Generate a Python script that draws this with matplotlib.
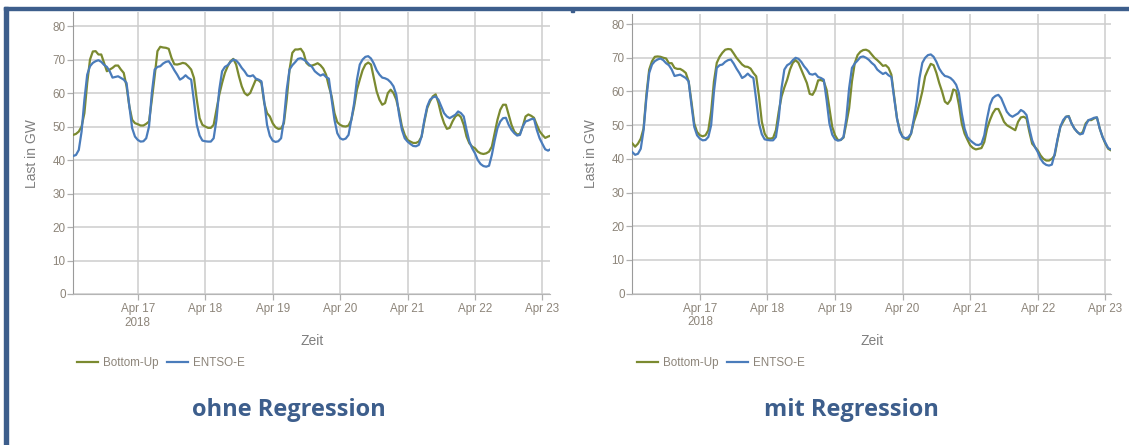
import numpy as np
import pandas as pd
import matplotlib
matplotlib.use("Agg")
import matplotlib.pyplot as plt
from matplotlib.patches import Rectangle
from matplotlib.lines import Line2D

# Hourly load in GW, starting 2018-04-16 00:00
entsoe = [
    # Apr 16
    42.0, 41.2, 41.5, 43.0, 48.5, 58.0, 65.5, 68.0, 69.0, 69.5, 69.8, 69.3,
    68.4, 67.8, 66.5, 64.6, 64.8, 65.0, 64.5, 64.0, 63.0, 56.0, 49.5, 47.0,
    # Apr 17
    46.0, 45.5, 45.6, 46.5, 50.0, 60.0, 67.0, 67.8, 68.0, 68.8, 69.3, 69.5,
    68.3, 66.8, 65.5, 64.0, 64.5, 65.3, 64.5, 64.0, 57.5, 50.5, 47.3, 45.8,
    # Apr 18
    45.6, 45.5, 45.5, 46.5, 52.0, 61.0, 66.5, 67.8, 68.3, 69.3, 70.0, 69.7,
    68.8, 67.5, 66.5, 65.2, 65.0, 65.3, 64.3, 64.0, 63.5, 57.5, 50.5, 47.2,
    # Apr 19
    45.8, 45.4, 45.6, 46.5, 52.0, 61.0, 67.0, 68.3, 69.2, 70.2, 70.4, 70.0,
    69.4, 68.5, 67.8, 66.5, 65.8, 65.2, 65.6, 64.8, 64.3, 58.0, 52.0, 48.0,
    # Apr 20
    46.5, 46.1, 46.4, 47.5, 52.0, 57.0, 64.0, 68.5, 70.0, 70.8, 71.0, 70.3,
    68.8, 66.8, 65.5, 64.6, 64.4, 64.0, 63.2, 62.0, 59.5, 53.5, 49.0, 46.5,
    # Apr 21
    45.5, 44.8, 44.2, 44.1, 44.5, 47.0, 52.0, 56.0, 58.0, 58.7, 59.0, 58.0,
    56.0, 54.0, 53.0, 52.5, 53.0, 53.5, 54.5, 54.0, 53.0, 49.0, 45.5, 43.5,
    # Apr 22
    42.0, 40.0, 38.8, 38.2, 38.0, 38.3, 41.5, 45.8, 49.5, 51.5, 52.5, 52.6,
    50.5, 49.0, 48.0, 47.3, 47.5, 50.0, 51.5, 51.8, 52.2, 52.3, 49.0, 46.5,
    # Apr 23
    44.8, 43.2, 42.8, 43.3,
]

bottom_up_raw = [
    # Apr 16
    47.5, 47.5, 47.8, 48.5, 50.0, 54.0, 63.0, 70.0, 72.4, 72.5, 71.5, 71.5,
    69.0, 66.5, 67.0, 67.5, 68.2, 68.2, 67.0, 66.0, 62.0, 56.0, 52.0, 51.0,
    # Apr 17
    50.7, 50.3, 50.3, 50.8, 51.5, 58.0, 65.0, 72.5, 73.8, 73.6, 73.5, 73.2,
    70.5, 68.6, 68.5, 68.7, 69.0, 68.8, 68.0, 67.0, 64.5, 58.0, 52.5, 50.5,
    # Apr 18
    50.0, 49.6, 49.6, 50.5, 55.0, 59.5, 63.0, 66.0, 68.0, 69.5, 70.2, 68.5,
    65.0, 62.0, 60.0, 59.3, 60.0, 62.0, 64.0, 63.8, 63.0, 57.0, 54.0, 53.0,
    # Apr 19
    51.0, 49.8, 49.3, 49.4, 51.0, 58.0, 67.0, 72.0, 73.0, 73.0, 73.2, 72.0,
    69.0, 68.2, 68.2, 68.5, 68.9, 68.3, 67.3, 65.5, 62.0, 59.0, 54.0, 51.3,
    # Apr 20
    50.5, 50.1, 50.0, 50.3, 52.0, 56.0, 61.0, 64.0, 66.8, 68.5, 69.1, 68.5,
    64.5, 60.5, 58.0, 56.5, 57.0, 60.0, 61.0, 60.0, 58.0, 54.5, 50.0, 47.5,
    # Apr 21
    46.0, 45.5, 45.1, 45.1, 45.5, 47.0, 51.5, 55.5, 57.5, 59.0, 59.6, 57.0,
    53.5, 51.0, 49.3, 49.6, 51.5, 53.0, 53.6, 52.8, 50.5, 47.0, 45.0, 44.0,
    # Apr 22
    43.5, 42.5, 42.0, 41.8, 42.0, 42.5, 44.0, 48.0, 52.0, 55.0, 56.5, 56.5,
    53.5, 50.5, 48.5, 47.6, 47.8, 50.0, 53.0, 53.6, 53.2, 52.6, 50.5, 48.6,
    # Apr 23
    47.5, 46.6, 47.0, 47.3,
]

bottom_up_reg = [
    # Apr 16
    44.6, 43.6, 44.5, 46.0, 49.0, 59.0, 66.5, 69.0, 70.3, 70.4, 70.3, 70.0,
    69.8, 68.4, 68.4, 67.0, 66.7, 66.7, 66.2, 65.5, 63.0, 57.0, 50.5, 48.0,
    # Apr 17
    47.0, 46.7, 47.0, 48.5, 54.0, 63.0, 68.5, 70.3, 71.5, 72.4, 72.6, 72.5,
    71.3, 70.0, 69.0, 68.0, 67.4, 67.3, 66.8, 65.5, 64.5, 58.5, 51.0, 47.5,
    # Apr 18
    46.1, 46.0, 46.2, 48.5, 54.0, 58.5, 61.2, 63.5, 66.5, 68.5, 69.3, 68.5,
    66.5, 64.5, 62.5, 59.3, 59.0, 60.5, 63.3, 63.4, 63.0, 60.5, 55.0, 49.5,
    # Apr 19
    47.0, 45.6, 45.6, 46.3, 50.5, 55.0, 63.0, 68.4, 70.8, 71.8, 72.3, 72.4,
    72.0, 71.0, 70.0, 69.3, 68.5, 67.6, 67.8, 67.0, 65.0, 58.5, 52.0, 48.5,
    # Apr 20
    46.5, 46.0, 45.7, 47.5, 51.0, 53.5, 56.5, 60.0, 64.5, 66.5, 68.2, 67.8,
    65.5, 62.5, 60.0, 57.0, 56.3, 57.5, 60.6, 60.2, 56.0, 50.5, 47.5, 45.7,
    # Apr 21
    44.0, 43.2, 42.8, 43.0, 43.2, 45.0, 49.0, 51.5, 53.5, 54.8, 54.8, 53.0,
    51.0, 50.0, 49.5, 49.0, 48.5, 51.0, 52.3, 52.5, 52.0, 48.0, 44.5, 43.5,
    # Apr 22
    42.5, 41.0, 40.0, 39.5, 39.5, 40.0, 41.0, 45.5, 49.5, 51.0, 52.5, 52.7,
    50.5, 49.0, 48.0, 47.3, 48.0, 50.5, 51.5, 51.5, 52.0, 52.3, 49.0, 46.5,
    # Apr 23
    44.5, 43.0, 42.5, 42.8,
]

times = pd.date_range("2018-04-16 00:00", periods=len(entsoe), freq="h")

tick_dates = pd.date_range("2018-04-17", "2018-04-23", freq="D")
tick_labels = ["Apr 17\n2018", "Apr 18", "Apr 19", "Apr 20", "Apr 21", "Apr 22", "Apr 23"]
y_ticks = [0, 10, 20, 30, 40, 50, 60, 70, 80]

series_names = ["Bottom-Up", "ENTSO-E"]
panel_titles = ["ohne Regression", "mit Regression"]

GREEN = "#7b8a30"
BLUE = "#4a7cbb"
GRID = "#cdcdcd"
TEXT = "#8d857a"
FRAME = "#3d5e8c"

plt.rcParams["font.family"] = ["Liberation Sans", "DejaVu Sans"]

fig = plt.figure(figsize=(11.29, 4.45), dpi=100)

# Frame: left and top bars
fig.patches.append(Rectangle((4 / 1129, 0), 4 / 1129, 1 - 7 / 445,
                             transform=fig.transFigure, color=FRAME, zorder=5))
fig.patches.append(Rectangle((4 / 1129, 1 - 10 / 445), 1, 3 / 445,
                             transform=fig.transFigure, color=FRAME, zorder=5))
fig.patches.append(Rectangle((571 / 1129, 1 - 11.5 / 445), 3 / 1129, 1.5 / 445,
                             transform=fig.transFigure, color=FRAME, zorder=5))

panels = [
    dict(rect=[73.3 / 1129, 1 - 294 / 445, (550 - 73.3) / 1129, (294 - 12.3) / 445],
         bottom_up=bottom_up_raw, xlim=("2018-04-16 01:03", "2018-04-23 02:42"),
         ytop=84.1, legend_x=77, title_x=289),
    dict(rect=[632.3 / 1129, 1 - 293.6 / 445, (1111 - 632.3) / 1129, (293.6 - 14) / 445],
         bottom_up=bottom_up_reg, xlim=("2018-04-16 00:00", "2018-04-23 02:00"),
         ytop=83.0, legend_x=637, title_x=851),
]

for p, title in zip(panels, panel_titles):
    ax = fig.add_axes(p["rect"])
    ax.plot(times, p["bottom_up"], color=GREEN, lw=1.6, label=series_names[0], zorder=3)
    ax.plot(times, entsoe, color=BLUE, lw=1.6, label=series_names[1], zorder=4)
    ax.set_xlim(pd.Timestamp(p["xlim"][0]), pd.Timestamp(p["xlim"][1]))
    ax.set_ylim(0, p["ytop"])
    ax.set_xticks(tick_dates)
    ax.set_xticklabels(tick_labels)
    ax.set_yticks(y_ticks)
    ax.set_axisbelow(True)
    ax.grid(True, color=GRID, lw=1.1)
    for s in ("top", "right"):
        ax.spines[s].set_visible(False)
    ax.spines["left"].set_color("#9a9a9a")
    ax.spines["bottom"].set_color("#b5b5b5")
    ax.tick_params(axis="both", colors="#b0b0b0", labelcolor=TEXT, labelsize=8.4,
                   length=4, width=0.9)
    ax.tick_params(axis="y", pad=1.5)
    ax.tick_params(axis="x", pad=2.5)
    ax.set_xlabel("Zeit", fontsize=10, color="#7f7f7f", labelpad=4)
    ax.set_ylabel("Last in GW", fontsize=10, color="#7f7f7f", labelpad=10)

    handles = [Line2D([], [], color=GREEN, lw=1.6), Line2D([], [], color=BLUE, lw=1.6)]
    fig.legend(handles, series_names, loc="center left",
               bbox_to_anchor=(p["legend_x"] / 1129, 1 - 363 / 445),
               ncol=2, frameon=False, fontsize=8.4, labelcolor=TEXT,
               handlelength=1.8, handletextpad=0.45, columnspacing=0.7,
               borderpad=0, borderaxespad=0)

    fig.text(p["title_x"] / 1129, 1 - 410 / 445, title, ha="center", va="center",
             fontsize=17, fontweight="bold", color=FRAME, family="Open Sans")

fig.savefig("out.png", dpi=100)
